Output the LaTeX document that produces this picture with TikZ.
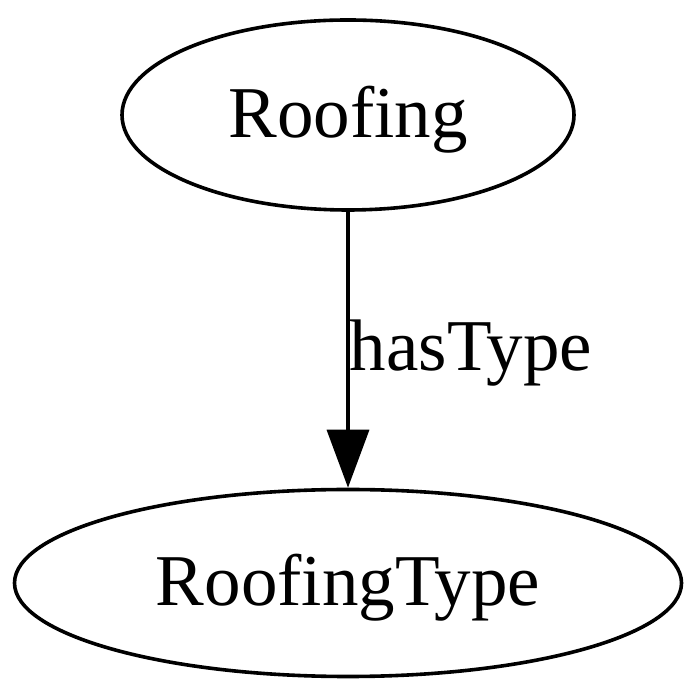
\documentclass[tikz,border=0pt]{standalone}
\usepackage{fontspec}
\setmainfont{Liberation Serif}
\usepackage{tikz}
\usetikzlibrary{shapes,arrows.meta}
\tikzstyle{tsLabel} = [ 
    text=black, 
    font=\fontsize{73}{80}\selectfont
]
\tikzstyle{tsEllipse} = [ 
    ellipse,
    tsLabel,
    draw=black,
    line width=3.6pt,
    text height=56pt,
    text depth=10pt]
\tikzstyle{tsArrow} = [ 
    line width=3.6pt,
    -{Triangle[length=58pt,width=42pt]}]
\begin{document}
\begin{tikzpicture}[x=1pt, y=1pt]
        
        \useasboundingbox (0,0) rectangle (700,700);
        
        \node[  tsEllipse, 
                minimum width=452pt,
                minimum height=190pt] (roofing) at (348,585) {Roofing};
        \node[  tsEllipse, 
                minimum width=667pt,
                minimum height=187pt] (roofingtype) at (348,117) {RoofingType};
                
     	\draw[tsArrow] (roofing) -- (roofingtype)
     	    node[tsLabel, pos=0.5, anchor=west, inner sep=0pt, yshift=-3pt] (hastype) {hasType};
   	 	
       \end{tikzpicture}
\end{document}
